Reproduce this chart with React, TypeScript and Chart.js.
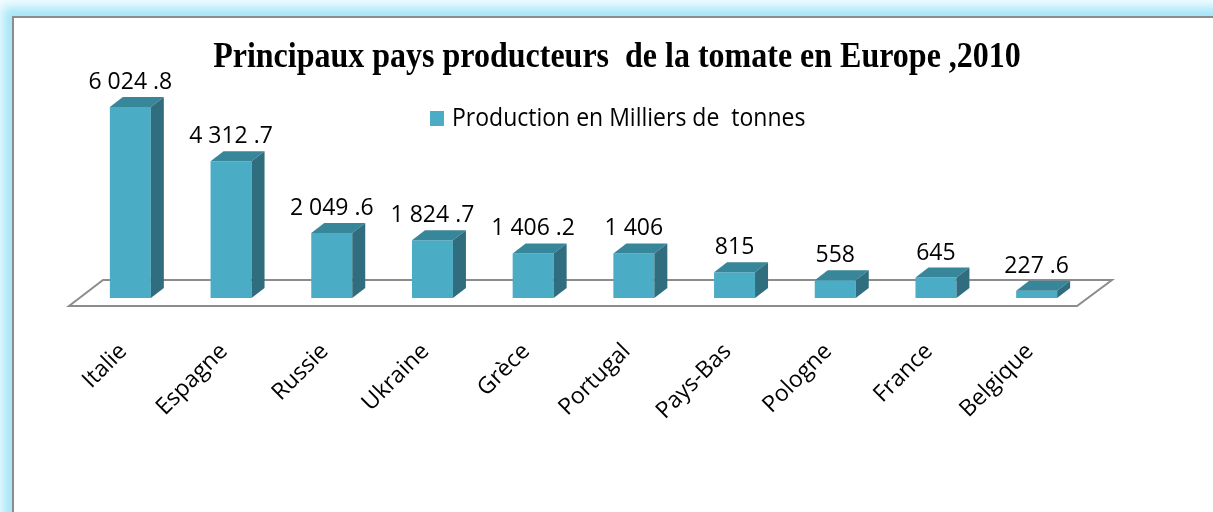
import React, { useEffect, useRef } from "react";
import { Chart, registerables } from "chart.js";

Chart.register(...registerables);

const categories = ["Italie", "Espagne", "Russie", "Ukraine", "Grèce", "Portugal", "Pays-Bas", "Pologne", "France", "Belgique"];
const production = [6024.8, 4312.7, 2049.6, 1824.7, 1406.2, 1406, 815, 558, 645, 227.6];
const valueLabels = ["6 024 .8", "4 312 .7", "2 049 .6", "1 824 .7", "1 406 .2", "1 406", "815", "558", "645", "227 .6"];
const seriesLabel = "Production en Milliers de  tonnes";
const chartTitle = "Principaux pays producteurs  de la tomate en Europe ,2010";

const FRONT = "#4BACC6";
const TOP = "#38869A";
const SIDE = "#306D7E";
const DX = 13;
const DY = 10;

function stretchedText(ctx: any, text: string, x: number, y: number, sy: number) {
  ctx.save();
  ctx.translate(x, y);
  ctx.scale(1, sy);
  ctx.fillText(text, 0, 0);
  ctx.restore();
}

const bar3dPlugin = {
  id: "bar3d",
  beforeDatasetsDraw(chart: any) {
    const { ctx, chartArea: a } = chart;
    const y0 = chart.scales.y.getPixelForValue(0);
    ctx.save();
    ctx.strokeStyle = "#8c8c8c";
    ctx.lineWidth = 2;
    ctx.beginPath();
    ctx.moveTo(a.left - 11, y0 + 8);
    ctx.lineTo(a.left + 23, y0 - 18);
    ctx.lineTo(a.right + 25, y0 - 18);
    ctx.lineTo(a.right - 10, y0 + 8);
    ctx.closePath();
    ctx.stroke();
    ctx.restore();
  },
  afterDatasetsDraw(chart: any) {
    const { ctx } = chart;
    const meta = chart.getDatasetMeta(0);
    ctx.save();
    meta.data.forEach((bar: any, i: number) => {
      const { x, y, base, width } = bar.getProps(["x", "y", "base", "width"], true);
      const l = x - width / 2;
      const r = x + width / 2;
      ctx.fillStyle = TOP;
      ctx.beginPath();
      ctx.moveTo(l, y);
      ctx.lineTo(l + DX, y - DY);
      ctx.lineTo(r + DX, y - DY);
      ctx.lineTo(r, y);
      ctx.closePath();
      ctx.fill();
      ctx.fillStyle = SIDE;
      ctx.beginPath();
      ctx.moveTo(r, y);
      ctx.lineTo(r + DX, y - DY);
      ctx.lineTo(r + DX, base - DY);
      ctx.lineTo(r, base);
      ctx.closePath();
      ctx.fill();
      ctx.fillStyle = "#000";
      ctx.font = '23px "Open Sans"';
      ctx.textAlign = "center";
      ctx.textBaseline = "alphabetic";
      stretchedText(ctx, valueLabels[i], x, y - 18, 1.06);
    });
    ctx.restore();
  },
  afterDraw(chart: any) {
    const { ctx } = chart;
    ctx.save();
    ctx.fillStyle = "#000";
    ctx.font = 'bold 32px "Liberation Serif"';
    ctx.textAlign = "center";
    ctx.textBaseline = "alphabetic";
    stretchedText(ctx, chartTitle, 617, 67, 1.13);
    ctx.fillStyle = FRONT;
    ctx.fillRect(430, 111, 14, 15);
    ctx.fillStyle = "#000";
    ctx.font = '23px "Open Sans"';
    ctx.textAlign = "left";
    stretchedText(ctx, chart.data.datasets[0].label, 452, 126, 1.08);
    ctx.restore();
  },
};

export default function App() {
  const ref = useRef<HTMLCanvasElement | null>(null);
  useEffect(() => {
    if (!ref.current) return;
    const chart = new Chart(ref.current, {
      type: "bar",
      data: {
        labels: categories,
        datasets: [
          {
            label: seriesLabel,
            data: production,
            backgroundColor: FRONT,
            barPercentage: 0.407,
            categoryPercentage: 1,
          },
        ],
      },
      options: {
        responsive: false,
        animation: false,
        layout: { padding: { left: 80, right: 126, top: 76, bottom: 0 } },
        plugins: {
          legend: { display: false },
          title: { display: false },
          tooltip: { enabled: false },
        },
        scales: {
          x: {
            grid: { display: false, drawTicks: false },
            border: { display: false },
            ticks: {
              maxRotation: 45,
              minRotation: 45,
              padding: 40,
              labelOffset: -7,
              color: "#000",
              font: { family: '"Open Sans"', size: 23 },
            },
            afterFit: (s: any) => {
              s.height = 214;
            },
          },
          y: { display: false, min: 0, max: 7000 },
        },
      },
      plugins: [bar3dPlugin],
    } as any);
    return () => chart.destroy();
  }, []);

  return (
    <div style={{ position: "fixed", left: 0, top: 0, width: 1213, height: 512, overflow: "hidden", background: "#f2fcff" }}>
      <div
        style={{
          position: "absolute",
          left: 12,
          top: 16,
          width: 1400,
          height: 700,
          border: "2px solid #8c8c8c",
          boxShadow: "0 0 10px 9px #a6e6f8",
          background: "#fff",
        }}
      />
      <canvas ref={ref} width={1213} height={512} style={{ position: "absolute", left: 0, top: 0 }} />
    </div>
  );
}
